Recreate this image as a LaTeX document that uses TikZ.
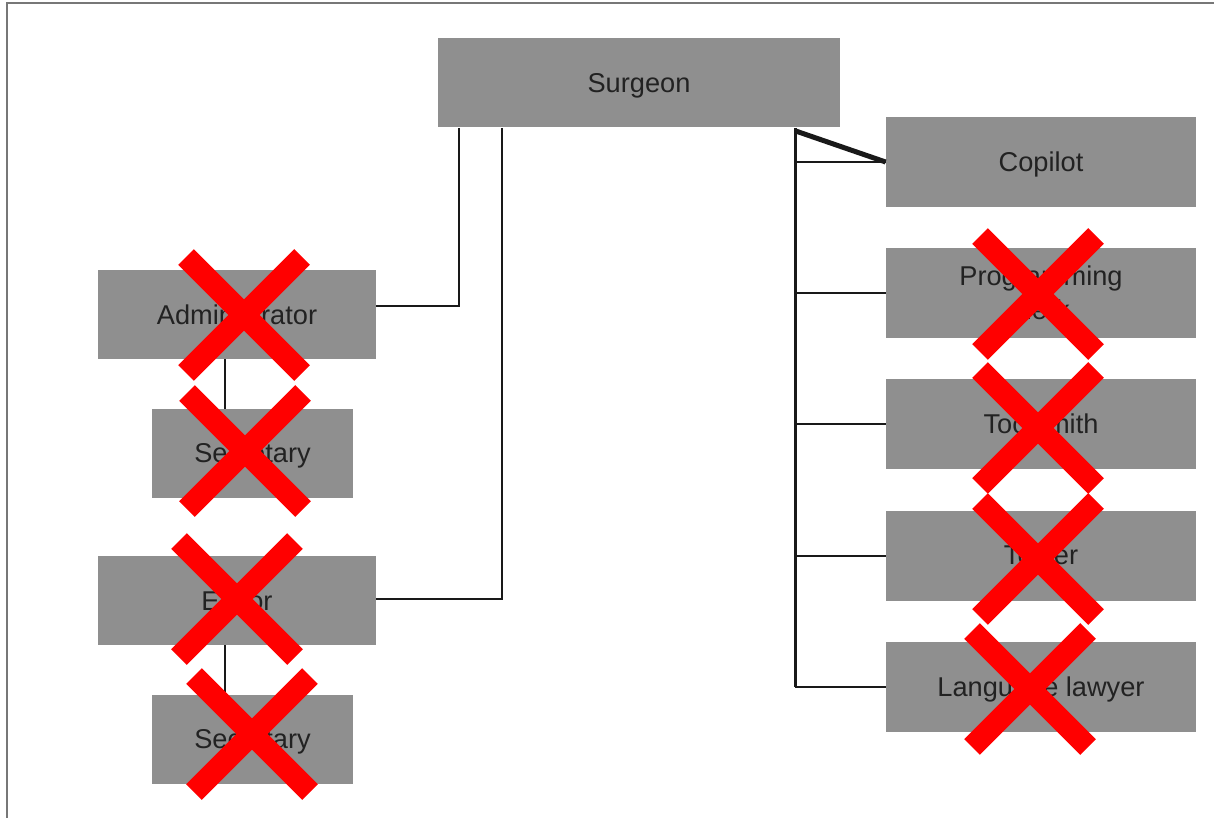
\documentclass[tikz,border=0pt]{standalone}
\usepackage{fontspec}
\setmainfont{Liberation Sans}
\usetikzlibrary{calc}
\definecolor{boxgray}{HTML}{8F8F8F}
\definecolor{textgray}{HTML}{222222}
\definecolor{framegray}{HTML}{777777}

\begin{document}
\begin{tikzpicture}[
        x=0.5pt, y=-0.5pt,
        every node/.style = {
            fill=boxgray,
            text=textgray,
            font=\fontsize{13.6}{17}\selectfont,
            align=center,
            text depth=0pt,
            inner sep=0pt
        },
        wide/.style = {minimum width=155pt, minimum height=45pt},
        side/.style = {minimum width=139pt, minimum height=44.5pt},
        narrow/.style = {minimum width=100.5pt, minimum height=44.5pt},
        link/.style = {line width=1pt, black!90},
        bus/.style = {line width=1.6pt, black!90},
        cross/.style = {line width=11pt, red}
    ]
    \useasboundingbox (0,0) rectangle (1214,818);
    \draw[framegray, line width=1pt] (1214,3) -- (7,3) -- (7,818);

    \node[minimum width=201pt, minimum height=44.5pt] (surgeon) at (639,83) {Surgeon};

    % right column
    \node[wide] (copilot) at (1041,162) {Copilot};
    \node[wide] (prog) at (1041,293) {Programming\\clerk};
    \node[wide] (tool) at (1041,424) {Toolsmith};
    \node[wide] (tester) at (1041,555.5) {Tester};
    \node[wide] (lawyer) at (1041,686.5) {Language lawyer};

    % left column
    \node[side] (admin) at (237,314.5) {Administrator};
    \node[narrow] (sec1) at (252.5,453.5) {Secretary};
    \node[side] (editor) at (237,600.5) {Editor};
    \node[narrow] (sec2) at (252.5,739) {Secretary};

    \draw[link] ($(surgeon.south west)+(21,0)$) |- ($(admin.east)+(0,-9)$);
    \draw[link] ($(surgeon.south west)+(64,0)$) |- ($(editor.east)+(0,-2)$);
    \draw[link] ($(admin.south west)+(127,0)$) coordinate (a) -- (a |- sec1.north);
    \draw[link] ($(editor.south west)+(127,0)$) coordinate (e) -- (e |- sec2.north);

    \coordinate (bus) at ($(surgeon.south east)+(-45,0)$);
    \draw[bus] (bus) -- (bus |- lawyer.west);
    \draw[line width=2.5pt, black!90] ($(bus)+(0,3)$) -- (copilot.west);
    \foreach \n in {copilot, prog, tool, tester, lawyer}
        \draw[link] (bus |- \n.west) -- (\n.west);

    \foreach \cx/\cy in {244/315, 245/451, 237/599, 252/734, 1038/294, 1038/428, 1038/559, 1030/689}
        \draw[cross] (\cx-58,\cy-58) -- (\cx+58,\cy+58) (\cx-58,\cy+58) -- (\cx+58,\cy-58);
\end{tikzpicture}
\end{document}
